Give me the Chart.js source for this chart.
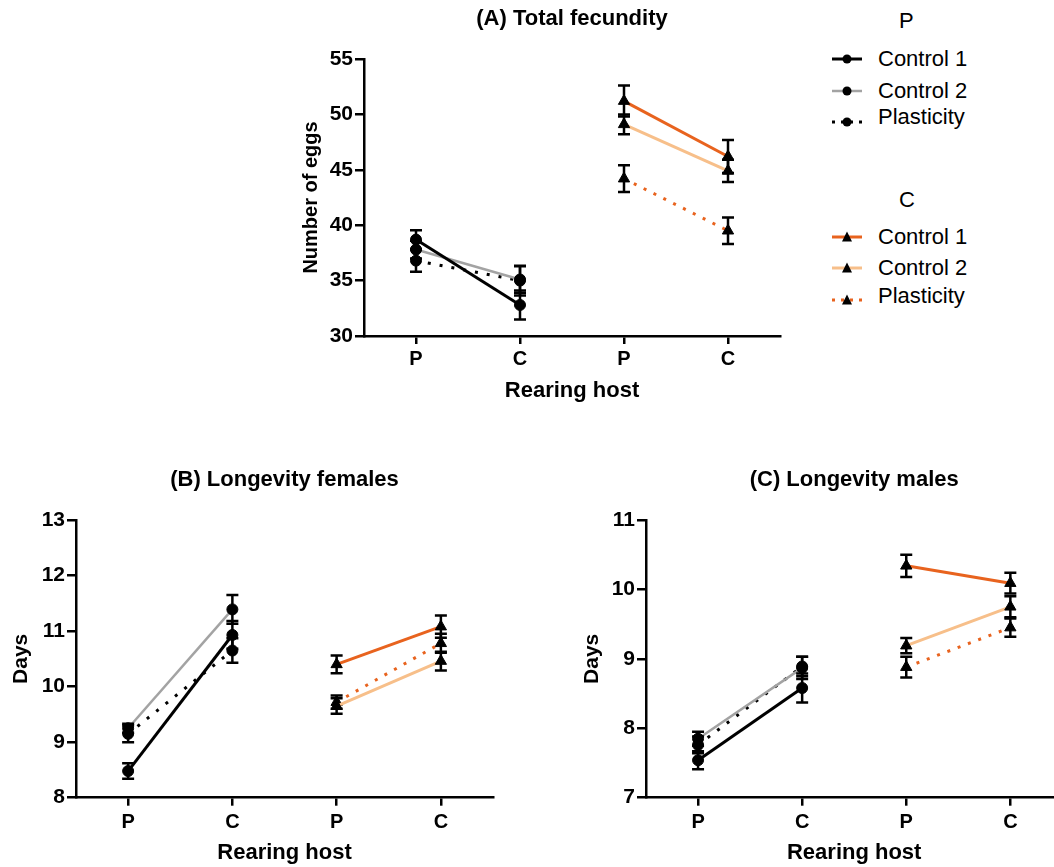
<!DOCTYPE html>
<html><head><meta charset="utf-8">
<script src="https://cdn.jsdelivr.net/npm/chart.js@4"></script>
<style>
html,body{margin:0;padding:0;width:1054px;height:867px;overflow:hidden;background:#fff;font-family:"Liberation Sans",Arial,sans-serif;}
canvas{position:absolute;display:block}
.lg{position:absolute;font-size:22px;line-height:22px;color:#000;white-space:nowrap}
.sym{position:absolute}
</style></head><body>
<canvas id="ca" width="540" height="410" style="left:260px;top:0"></canvas>
<canvas id="cb" width="520" height="427" style="left:0;top:440px"></canvas>
<canvas id="cc" width="500" height="427" style="left:570px;top:440px"></canvas>
<div id="legend"></div>
<script>
// ---------- data ----------
const hostLabels = ['P', 'C', 'P', 'C'];
const seriesNames = ['Control 1', 'Control 2', 'Plasticity'];

// (A) Total fecundity - means at [P, C] rearing host
const fecP_ctrl1 = [38.7, 32.8];  const fecP_ctrl1_se = [0.85, 1.3];
const fecP_ctrl2 = [37.8, 35.1];  const fecP_ctrl2_se = [0.8, 1.2];
const fecP_plast = [36.8, 35.0];  const fecP_plast_se = [1.0, 1.35];
const fecC_ctrl1 = [51.2, 46.2];  const fecC_ctrl1_se = [1.4, 1.5];
const fecC_ctrl2 = [49.1, 44.9];  const fecC_ctrl2_se = [0.9, 1.0];
const fecC_plast = [44.2, 39.5];  const fecC_plast_se = [1.2, 1.2];

// (B) Longevity females
const femP_ctrl1 = [8.48, 10.93]; const femP_ctrl1_se = [0.14, 0.25];
const femP_ctrl2 = [9.25, 11.39]; const femP_ctrl2_se = [0.08, 0.26];
const femP_plast = [9.15, 10.65]; const femP_plast_se = [0.15, 0.22];
const femC_ctrl1 = [10.4, 11.08]; const femC_ctrl1_se = [0.16, 0.2];
const femC_ctrl2 = [9.65, 10.46]; const femC_ctrl2_se = [0.14, 0.17];
const femC_plast = [9.72, 10.78]; const femC_plast_se = [0.12, 0.17];

// (C) Longevity males
const malP_ctrl1 = [7.54, 8.58];  const malP_ctrl1_se = [0.13, 0.21];
const malP_ctrl2 = [7.85, 8.87];  const malP_ctrl2_se = [0.1, 0.16];
const malP_plast = [7.76, 8.89];  const malP_plast_se = [0.12, 0.14];
const malC_ctrl1 = [10.34, 10.09]; const malC_ctrl1_se = [0.16, 0.15];
const malC_ctrl2 = [9.19, 9.75];  const malC_ctrl2_se = [0.11, 0.15];
const malC_plast = [8.88, 9.45];  const malC_plast_se = [0.15, 0.13];

// ---------- styles ----------
const FONT = "'Liberation Sans', Arial, Helvetica, sans-serif";
Chart.defaults.font.family = FONT;
Chart.defaults.color = '#000';
const ORANGE = '#E8631E', PEACH = '#F7BF8A', GREY = '#A3A3A3';
const styleP = [
  {color: '#000', width: 3, dash: []},
  {color: GREY, width: 2.5, dash: []},
  {color: '#000', width: 3, dash: [3, 9]}
];
const styleC = [
  {color: ORANGE, width: 3, dash: []},
  {color: PEACH, width: 3, dash: []},
  {color: ORANGE, width: 3, dash: [3, 8]}
];

function mkDataset(name, vals, ses, group, st) {
  const data = group === 'P' ? [vals[0], vals[1], null, null] : [null, null, vals[0], vals[1]];
  const errors = group === 'P' ? [ses[0], ses[1], null, null] : [null, null, ses[0], ses[1]];
  return {
    label: name + ' (' + group + ')', data, errors,
    borderColor: st.color, borderWidth: st.width, borderDash: st.dash,
    pointStyle: group === 'P' ? 'circle' : 'triangle',
    pointRadius: group === 'P' ? 5.5 : 6.5,
    pointBackgroundColor: '#000', pointBorderColor: '#000', pointBorderWidth: 1,
    spanGaps: false, fill: false, tension: 0
  };
}

const errorBars = {
  id: 'errorBars',
  afterDatasetsDraw(chart) {
    const ctx = chart.ctx, ys = chart.scales.y;
    chart.data.datasets.forEach((ds, i) => {
      const meta = chart.getDatasetMeta(i);
      ds.data.forEach((v, j) => {
        if (v == null) return;
        const e = ds.errors[j];
        const px = meta.data[j].x;
        const t = ys.getPixelForValue(v + e), b = ys.getPixelForValue(v - e);
        ctx.save();
        ctx.strokeStyle = '#000'; ctx.lineWidth = 2.5;
        ctx.beginPath();
        ctx.moveTo(px, t); ctx.lineTo(px, b);
        ctx.moveTo(px - 6, t); ctx.lineTo(px + 6, t);
        ctx.moveTo(px - 6, b); ctx.lineTo(px + 6, b);
        ctx.stroke();
        ctx.restore();
      });
    });
  }
};

function makeChart(id, o) {
  return new Chart(document.getElementById(id), {
    type: 'line',
    data: {labels: hostLabels, datasets: o.datasets},
    plugins: [errorBars],
    options: {
      responsive: false, animation: false,
      layout: {padding: {left: 0, right: o.padRight, top: 0, bottom: 0}},
      plugins: {
        legend: {display: false}, tooltip: {enabled: false},
        title: {display: true, text: o.title, fullSize: false, color: '#000',
          font: {size: 22, weight: 'bold'}, padding: {top: o.titleTop, bottom: o.titleBottom}}
      },
      scales: {
        x: {
          type: 'category', offset: true,
          grid: {display: true, drawOnChartArea: false, drawTicks: true, tickLength: 8, color: '#000', lineWidth: 2.5},
          border: {display: true, color: '#000', width: 2.5},
          ticks: {color: '#000', font: {size: 20, weight: 'bold'}, padding: o.xTickPad, maxRotation: 0, autoSkip: false},
          title: {display: true, text: 'Rearing host', color: '#000', font: {size: 22, weight: 'bold'}, padding: {top: 0, bottom: o.xTitlePad}},
          afterFit: s => { s.height = o.xHeight; }
        },
        y: {
          type: 'linear', min: o.ymin, max: o.ymax,
          grid: {display: true, drawOnChartArea: false, drawTicks: true, tickLength: 9, color: '#000', lineWidth: 2.5},
          border: {display: true, color: '#000', width: 2.5},
          ticks: {color: '#000', stepSize: o.step, font: {size: 21, weight: 'bold'}, padding: 2},
          title: {display: true, text: o.ytitle, color: '#000', font: {size: o.yFont, weight: 'bold'}, padding: {top: o.yTitlePad, bottom: 0}},
          afterFit: s => { s.width = o.yWidth; }
        }
      }
    }
  });
}

function sets(p1, p1s, p2, p2s, p3, p3s, c1, c1s, c2, c2s, c3, c3s) {
  return [
    mkDataset(seriesNames[0], p1, p1s, 'P', styleP[0]),
    mkDataset(seriesNames[1], p2, p2s, 'P', styleP[1]),
    mkDataset(seriesNames[2], p3, p3s, 'P', styleP[2]),
    mkDataset(seriesNames[0], c1, c1s, 'C', styleC[0]),
    mkDataset(seriesNames[1], c2, c2s, 'C', styleC[1]),
    mkDataset(seriesNames[2], c3, c3s, 'C', styleC[2])
  ];
}

makeChart('ca', {
  title: '(A) Total fecundity', ytitle: 'Number of eggs', yFont: 20,
  ymin: 30, ymax: 55, step: 5,
  padRight: 20, yWidth: 104, xHeight: 74,
  titleTop: 6, titleBottom: 26.6, xTickPad: 3.5, xTitlePad: 6, yTitlePad: 39,
  datasets: sets(fecP_ctrl1, fecP_ctrl1_se, fecP_ctrl2, fecP_ctrl2_se, fecP_plast, fecP_plast_se,
                 fecC_ctrl1, fecC_ctrl1_se, fecC_ctrl2, fecC_ctrl2_se, fecC_plast, fecC_plast_se)
});
makeChart('cb', {
  title: '(B) Longevity females', ytitle: 'Days', yFont: 21,
  ymin: 8, ymax: 13, step: 1,
  padRight: 27, yWidth: 76, xHeight: 69.3,
  titleTop: 27, titleBottom: 26.6, xTickPad: 4.3, xTitlePad: 1, yTitlePad: 9,
  datasets: sets(femP_ctrl1, femP_ctrl1_se, femP_ctrl2, femP_ctrl2_se, femP_plast, femP_plast_se,
                 femC_ctrl1, femC_ctrl1_se, femC_ctrl2, femC_ctrl2_se, femC_plast, femC_plast_se)
});
makeChart('cc', {
  title: '(C) Longevity males', ytitle: 'Days', yFont: 21,
  ymin: 7, ymax: 11, step: 1,
  padRight: 7.6, yWidth: 76, xHeight: 69.3,
  titleTop: 27, titleBottom: 26.6, xTickPad: 4.3, xTitlePad: 1, yTitlePad: 9.4,
  datasets: sets(malP_ctrl1, malP_ctrl1_se, malP_ctrl2, malP_ctrl2_se, malP_plast, malP_plast_se,
                 malC_ctrl1, malC_ctrl1_se, malC_ctrl2, malC_ctrl2_se, malC_plast, malC_plast_se)
});

// ---------- legend (HTML) ----------
const legendGroups = [
  {head: 'P', headY: 20.5, rows: [59, 90.5, 117], symY: [59, 90.5, 122], styles: styleP, marker: 'circle'},
  {head: 'C', headY: 200, rows: [237, 268, 296], symY: [236.5, 267.5, 300], styles: styleC, marker: 'triangle'}
];
const lg = document.getElementById('legend');
legendGroups.forEach(g => {
  const h = document.createElement('div');
  h.className = 'lg'; h.textContent = g.head;
  h.style.left = '899px'; h.style.top = (g.headY - 10.7) + 'px';
  lg.appendChild(h);
  seriesNames.forEach((name, i) => {
    const st = g.styles[i];
    const svgNS = 'http://www.w3.org/2000/svg';
    const svg = document.createElementNS(svgNS, 'svg');
    svg.setAttribute('width', '32'); svg.setAttribute('height', '14');
    svg.setAttribute('class', 'sym');
    svg.style.left = '831px'; svg.style.top = (g.symY[i] - 7) + 'px';
    const line = document.createElementNS(svgNS, 'line');
    line.setAttribute('x1', '1'); line.setAttribute('x2', '31');
    line.setAttribute('y1', '7'); line.setAttribute('y2', '7');
    line.setAttribute('stroke', st.color); line.setAttribute('stroke-width', st.width);
    if (st.dash.length) line.setAttribute('stroke-dasharray', '3 6');
    svg.appendChild(line);
    if (g.marker === 'circle') {
      const c = document.createElementNS(svgNS, 'circle');
      c.setAttribute('cx', '16'); c.setAttribute('cy', '7'); c.setAttribute('r', '4.5');
      c.setAttribute('fill', '#000');
      svg.appendChild(c);
    } else {
      const p = document.createElementNS(svgNS, 'polygon');
      p.setAttribute('points', '16,1.5 21,11.5 11,11.5');
      p.setAttribute('fill', '#000');
      svg.appendChild(p);
    }
    lg.appendChild(svg);
    const t = document.createElement('div');
    t.className = 'lg'; t.textContent = name;
    t.style.left = '878px'; t.style.top = (g.rows[i] - 10.7) + 'px';
    lg.appendChild(t);
  });
});
</script>
</body></html>
